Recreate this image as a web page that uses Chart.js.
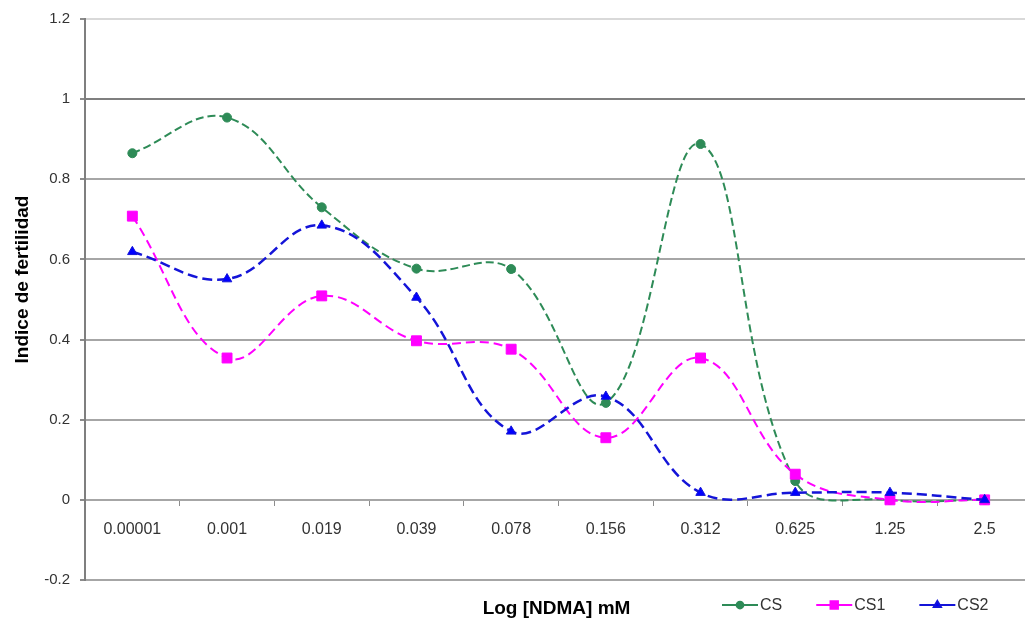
<!DOCTYPE html>
<html>
<head>
<meta charset="utf-8">
<title>Indice de fertilidad</title>
<script src="https://cdn.jsdelivr.net/npm/chart.js@4.4.1/dist/chart.umd.min.js"></script>
<style>
    html, body { margin: 0; padding: 0; background: #fff; overflow: hidden; }
    #contenedor { width: 1025px; height: 622px; overflow: hidden; }
</style>
</head>
<body>
<div id="contenedor"><canvas id="grafica" width="1040" height="622"></canvas></div>
<script>
// Datos
const concentraciones = ['0.00001', '0.001', '0.019', '0.039', '0.078', '0.156', '0.312', '0.625', '1.25', '2.5'];
const valoresCS  = [0.865, 0.954, 0.730, 0.577, 0.576, 0.242, 0.888, 0.047, 0.0, 0.0];
const valoresCS1 = [0.708, 0.354, 0.509, 0.397, 0.376, 0.155, 0.354, 0.064, 0.0, 0.0];
const valoresCS2 = [0.619, 0.551, 0.685, 0.505, 0.171, 0.258, 0.018, 0.018, 0.018, 0.0];
const ticksY = [-0.2, 0, 0.2, 0.4, 0.6, 0.8, 1, 1.2];

const tituloX = 'Log [NDMA] mM';
const tituloY = 'Indice de fertilidad';
const fuente = '"Liberation Sans", Arial, sans-serif';

// Titulos de ejes y leyenda (linea + marcador, estilo Excel)
const textosExtra = {
    id: 'textosExtra',
    afterDraw(chart) {
        const { ctx, chartArea } = chart;
        ctx.save();
        ctx.fillStyle = '#000';
        ctx.font = 'bold 19px ' + fuente;
        ctx.textAlign = 'center';
        ctx.textBaseline = 'middle';
        ctx.fillText(tituloX, (chartArea.left + chartArea.right) / 2 - 2, chartArea.bottom + 29);

        ctx.save();
        ctx.translate(23, (chartArea.top + chartArea.bottom) / 2 - 20);
        ctx.rotate(-Math.PI / 2);
        ctx.fillText(tituloY, 0, 0);
        ctx.restore();

        // leyenda
        const yLey = chartArea.bottom + 25;
        let x = 722;
        ctx.font = '16px ' + fuente;
        ctx.textAlign = 'left';
        chart.data.datasets.forEach(ds => {
            ctx.strokeStyle = ds.borderColor;
            ctx.fillStyle = ds.backgroundColor;
            ctx.lineWidth = 2;
            ctx.setLineDash([]);
            ctx.beginPath();
            ctx.moveTo(x, yLey);
            ctx.lineTo(x + 36, yLey);
            ctx.stroke();
            Chart.helpers.drawPoint(ctx, {
                pointStyle: ds.pointStyle,
                radius: ds.pointRadius * 0.75,
                borderWidth: 1,
                rotation: 0
            }, x + 18, yLey);
            ctx.fillStyle = '#333';
            ctx.fillText(ds.label, x + 38, yLey + 1);
            x += 38 + ctx.measureText(ds.label).width + 34;
        });
        ctx.restore();
    }
};

function colorRejilla(context) {
    const v = context.tick ? context.tick.value : 0;
    if (Math.abs(v - 1.2) < 1e-6) return '#d9d9d9';
    if (Math.abs(v - 1) < 1e-6) return '#7f7f7f';
    return '#a6a6a6';
}

const ctx = document.getElementById('grafica').getContext('2d');
new Chart(ctx, {
    type: 'line',
    data: {
        labels: concentraciones,
        datasets: [
            {
                label: 'CS', data: valoresCS,
                borderColor: '#2e8b57', backgroundColor: '#2e8b57',
                borderWidth: 2, borderDash: [8, 4],
                pointStyle: 'circle', pointRadius: 4.5, pointBorderWidth: 1,
                tension: 0.4, order: 3
            },
            {
                label: 'CS1', data: valoresCS1,
                borderColor: '#ff00ff', backgroundColor: '#ff00ff',
                borderWidth: 2, borderDash: [9, 5],
                pointStyle: 'rect', pointRadius: 7, pointBorderWidth: 1,
                tension: 0.4, order: 2
            },
            {
                label: 'CS2', data: valoresCS2,
                borderColor: '#1414d8', backgroundColor: '#0000ff',
                borderWidth: 2.5, borderDash: [10, 5],
                pointStyle: 'triangle', pointRadius: 5.5, pointBorderWidth: 1,
                tension: 0.4, order: 1
            }
        ]
    },
    options: {
        responsive: false,
        animation: false,
        devicePixelRatio: 1,
        layout: { padding: { left: 0, right: 5, top: 17, bottom: 42 } },
        plugins: {
            legend: { display: false },
            tooltip: { enabled: false }
        },
        scales: {
            x: {
                type: 'category',
                position: { y: 0 },
                offset: true,
                grid: {
                    display: true, drawOnChartArea: false, drawTicks: true,
                    tickLength: 5, color: '#8c8c8c', lineWidth: 1, offset: true
                },
                border: { display: true, color: '#a6a6a6', width: 2 },
                ticks: {
                    color: '#333', font: { size: 16, family: fuente },
                    padding: 15, maxRotation: 0, autoSkip: false
                }
            },
            y: {
                min: -0.2,
                max: 1.2,
                afterBuildTicks: s => { s.ticks = ticksY.map(v => ({ value: v })); },
                afterFit: s => { s.width = 85; },
                grid: { color: colorRejilla, lineWidth: 2, tickLength: 5, drawTicks: true, tickColor: '#8c8c8c' },
                border: { display: true, color: '#7f7f7f', width: 2 },
                ticks: {
                    color: '#333', font: { size: 15, family: fuente }, padding: 10,
                    callback: v => String(Number(Number(v).toFixed(1)))
                }
            }
        }
    },
    plugins: [textosExtra]
});
</script>
</body>
</html>
